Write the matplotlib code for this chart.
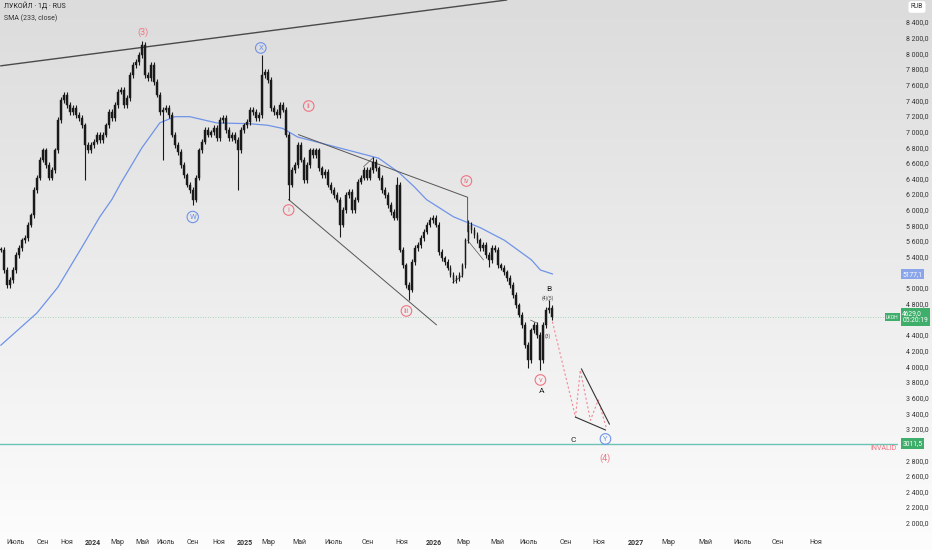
import numpy as np
import matplotlib
matplotlib.use("Agg")
from matplotlib import pyplot as plt

plt.rcParams['font.family'] = ['Roboto', 'DejaVu Sans']

# daily-ish closes, one value per bar
closes = [
    5490, 5230, 5040, 5100, 5230, 5420, 5510, 5610, 5640, 5810,
    5930, 6250, 6410, 6640, 6760, 6570, 6410, 6510, 6760, 7150,
    7400, 7470, 7340, 7250, 7300, 7210, 7170, 7080, 6830, 6760,
    6830, 6870, 6960, 6890, 6960, 7080, 7250, 7170, 7340, 7510,
    7530, 7340, 7430, 7720, 7850, 7890, 7980, 8110, 7720, 7680,
    7850, 7630, 7470, 7250, 7280, 7300, 7210, 6960, 6830, 6740,
    6570, 6440, 6320, 6250, 6130, 6410, 6760, 6870, 7020, 6960,
    6990, 7050, 6920, 7150, 7170, 7020, 6920, 6960, 6890, 6760,
    7020, 7080, 7120, 7280, 7250, 7170, 7210, 7720, 7760, 7660,
    7300, 7250, 7210, 7340, 7280, 6960, 6320, 6510, 6570, 6830,
    6640, 6380, 6570, 6760, 6700, 6760, 6530, 6440, 6480, 6320,
    6250, 6190, 6130, 5810, 6000, 6190, 6230, 6000, 6130, 6360,
    6410, 6510, 6410, 6510, 6610, 6530, 6410, 6250, 6190, 6060,
    5970, 5900, 6320, 5490, 5290, 5040, 4980, 5330, 5510, 5550,
    5640, 5720, 5810, 5870, 5900, 5810, 5460, 5380, 5330, 5260,
    5170, 5100, 5130, 5170, 5290, 5610, 5810, 5740, 5680, 5610,
    5510, 5550, 5420, 5360, 5510, 5490, 5290, 5260, 5200, 5130,
    5040, 4910, 4780, 4660, 4530, 4270, 4080, 4460, 4530, 4400,
    4080, 4530, 4720, 4750, 4630,
]
# long wicks seen on the chart: bar -> price
spike_lows = {28: 6380, 54: 6640, 64: 6060, 79: 6250, 96: 6130, 113: 5650,
              136: 4850, 163: 5270, 176: 3980, 180: 3950}
spike_highs = {47: 8160, 87: 7980, 124: 6670, 132: 6420, 156: 5870, 183: 4850}

sma_bars = [0, 12, 19, 27, 33, 37, 40, 47, 53, 58, 63, 72, 83, 89, 94, 99,
            107, 118, 126, 133, 138, 142, 151, 160, 168, 177, 180, 184]
sma_vals = [4270, 4680, 5010, 5520, 5910, 6130, 6340, 6790, 7110, 7190, 7190,
            7110, 7100, 7080, 7040, 6930, 6850, 6740, 6660, 6470, 6290, 6130,
            5910, 5770, 5610, 5360, 5230, 5180]

tick_bars = [5, 14, 22, 30.7, 38.7, 47.3, 55, 64, 72.7, 81.3, 89.3, 99.7,
             111, 122.3, 133.7, 144.3, 154.3, 165.7, 176, 188.3, 199.3, 211.7,
             222.7, 235, 247.3, 259.3, 271.7]
tick_labels = ['Июль', 'Сен', 'Ноя', '2024', 'Мар', 'Май', 'Июль', 'Сен', 'Ноя',
               '2025', 'Мар', 'Май', 'Июль', 'Сен', 'Ноя', '2026', 'Мар', 'Май',
               'Июль', 'Сен', 'Ноя', '2027', 'Мар', 'Май', 'Июль', 'Сен', 'Ноя']

invalid_level = 3011.5
last_price = 4629.0
sma_last = 5177.1

# drawings (bar, price)
top_line = ([0, 168.7], [7840, 8681])
wedge_low = ([96, 145.3], [6130, 4530])
wedge_up = ([99.3, 155.7, 155.7], [6960, 6160, 5720])
small_lines = [([121, 124.3], [6550, 6670]),
               ([150.7, 154], [5070, 5160]),
               ([155.7, 161], [5610, 5360]),
               ([176.7, 179], [4590, 4550])]
zigzag = ([184, 191.7, 193.3, 196.7, 199.3, 202],
          [4570, 3350, 3950, 3310, 3570, 3210])
tri_a = ([193.7, 203], [3965, 3262])
tri_b = ([191.7, 201.7], [3350, 3186])

RED = '#f07482'
BLUE = '#6f93e8'
GREEN = '#3fae6a'

fig = plt.figure(figsize=(9.32, 5.5), dpi=100)

# background gradient
bg = fig.add_axes([0, 0, 1, 1], zorder=-10)
grad = np.linspace(0, 1, 256).reshape(-1, 1)
bg.imshow(grad, aspect='auto', cmap=matplotlib.colors.LinearSegmentedColormap.from_list(
    'g', ['#dcdcdc', '#ececec', '#fdfdfd']), extent=[0, 1, 0, 1])
bg.axis('off')

ax = fig.add_axes([0, 18 / 550, 898 / 932, 532 / 550])
ax.patch.set_alpha(0)
for s in ax.spines.values():
    s.set_visible(False)

# candles
n = len(closes)
for i in range(n):
    c = closes[i]
    o = closes[i - 1] if i > 0 else c
    hi = max(o, c) + 35
    lo = min(o, c) - 35
    if i in spike_highs:
        hi = spike_highs[i]
    if i in spike_lows:
        lo = spike_lows[i]
    ax.vlines(i, lo, hi, color='#1a1a1a', lw=0.8, zorder=3)
    ax.bar(i, max(abs(c - o), 10), bottom=min(o, c), width=0.65,
           color='#1a1a1a', edgecolor='#1a1a1a', linewidth=0.3, zorder=4)

ax.plot(sma_bars, sma_vals, color=BLUE, lw=0.9, zorder=2)

ax.axhline(invalid_level, color='#6cc4b4', lw=1.0, zorder=1)
ax.axhline(last_price, color='#8fd0a8', lw=0.6, ls=(0, (1, 2)), zorder=1)

ax.plot(*top_line, color='#4a4a4a', lw=1.0, zorder=2)
ax.plot(*wedge_low, color='#555555', lw=0.7, zorder=2)
ax.plot(*wedge_up, color='#555555', lw=0.7, zorder=2)
for xs, ys in small_lines:
    ax.plot(xs, ys, color='#555555', lw=0.5, zorder=2)
ax.plot(*zigzag, color='#f08a96', lw=0.8, ls=(0, (2, 2)), zorder=2)
ax.plot(*tri_a, color='#333333', lw=0.8, zorder=2)
ax.plot(*tri_b, color='#333333', lw=0.8, zorder=2)


def circled(x, y, t, col):
    ax.text(x, y, t, ha='center', va='center', fontsize=5.5, color=col, zorder=6,
            bbox=dict(boxstyle='circle,pad=0.3', fc='none', ec=col, lw=0.8))


ax.text(47.3, 8272, '(3)', ha='center', va='center', fontsize=6.5, color=RED)
circled(86.7, 8068, 'X', BLUE)
circled(64, 5908, 'W', BLUE)
circled(102.7, 7326, 'ii', RED)
circled(96, 5997, 'i', RED)
circled(135.3, 4707, 'iii', RED)
circled(155.3, 6368, 'iv', RED)
circled(180, 3825, 'v', RED)
circled(201.7, 3071, 'Y', BLUE)
ax.text(182.7, 4988, 'B', ha='center', va='center', fontsize=6, color='#222')
ax.text(180.3, 3684, 'A', ha='center', va='center', fontsize=6, color='#222')
ax.text(191, 3058, 'C', ha='center', va='center', fontsize=6, color='#222')
ax.text(201.7, 2828, '(4)', ha='center', va='center', fontsize=6.5, color=RED)
ax.text(182.6, 4870, '(4)(5)', ha='center', va='center', fontsize=3.5, color='#444')
ax.text(182.3, 4387, '(3)', ha='center', va='center', fontsize=3.5, color='#444')
ax.text(298.7, 2943, 'INVALID', ha='right', va='center', fontsize=5, color=RED)

ax.set_xlim(-0.3, 299.3)
ax.set_ylim(1882, 8681)

ax.set_xticks(tick_bars)
ax.set_xticklabels(tick_labels, fontsize=5, color='#333')
for lab in ax.get_xticklabels():
    if lab.get_text().isdigit():
        lab.set_fontweight('bold')
ax.tick_params(axis='x', length=0, pad=5)

# y labels hidden behind the price tags are left out
yt = np.arange(2000, 8401, 200)
covered = (3000, 4600, 5200)
ylabels = ['' if v in covered else
           '{:,.1f}'.format(v).replace(',', ' ').replace('.', ',') for v in yt]
ax.yaxis.tick_right()
ax.set_yticks(yt)
ax.set_yticklabels(ylabels, fontsize=5, color='#333')
ax.tick_params(axis='y', length=0, pad=6)
for lab in ax.get_yticklabels():
    lab.set_horizontalalignment('left')

# price tags on the right scale
tag = dict(ha='left', va='center', fontsize=4.8, color='white', zorder=10, clip_on=False)
ax.text(300.7, sma_last, '{:.1f}'.format(sma_last).replace('.', ','),
        bbox=dict(boxstyle='square,pad=0.25', fc='#8aa5ea', ec='none'), **tag)
ax.text(300.7, last_price, '4629,0\n05:20:19', linespacing=1.1,
        bbox=dict(boxstyle='square,pad=0.25', fc=GREEN, ec='none'), **tag)
ax.text(295.3, last_price, 'LKOH', ha='left', va='center', fontsize=3.6, color='white',
        zorder=10, bbox=dict(boxstyle='square,pad=0.25', fc=GREEN, ec='none'))
ax.text(300.7, invalid_level, '{:.1f}'.format(invalid_level).replace('.', ','),
        bbox=dict(boxstyle='square,pad=0.25', fc=GREEN, ec='none'), **tag)

fig.text(917 / 932, 1 - 7 / 550, 'RUB', ha='center', va='center', fontsize=4.8, color='#333',
         bbox=dict(boxstyle='round,pad=0.35', fc='white', ec='none'))
fig.text(4 / 932, 1 - 7 / 550, 'ЛУКОЙЛ · 1Д · RUS', ha='left', va='center', fontsize=5, color='#222')
fig.text(4 / 932, 1 - 18 / 550, 'SMA (233, close)', ha='left', va='center', fontsize=5, color='#333')

fig.savefig('out.png', dpi=100)
